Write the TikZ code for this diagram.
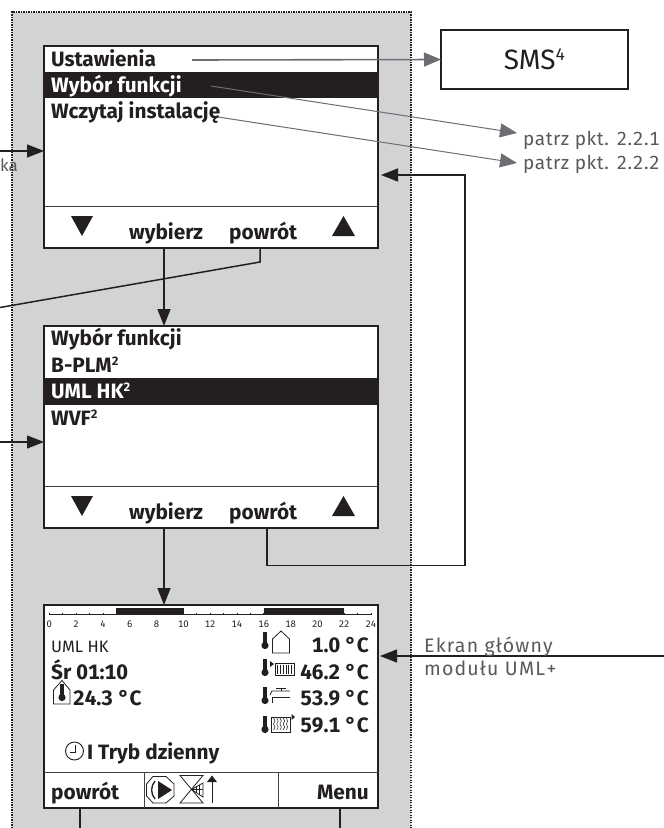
\documentclass[tikz,border=0pt]{standalone}
\usepackage{fontspec}
\setmainfont[Numbers={Lining,Monospaced}]{Fira Sans}
\usetikzlibrary{arrows.meta}
\definecolor{ink}{HTML}{231F20}
\definecolor{panel}{HTML}{D1D3D4}
\definecolor{arrowgray}{HTML}{6D6E71}
\definecolor{labelgray}{HTML}{58595B}
\newcommand{\upfour}{\raisebox{9pt}{\fontsize{17}{18}\selectfont 4}}
\newcommand{\uptwo}{\raisebox{6.5pt}{\bfseries\fontsize{12}{13}\selectfont 2}}
\tikzset{
  x=1pt,y=-1pt,
  screen/.style={draw=ink,line width=1.2pt,fill=white,minimum width=334pt,minimum height=202pt,inner sep=0pt,outer sep=0pt,anchor=north west},
  sms/.style={draw=ink,line width=1.3pt,fill=white,minimum width=187pt,minimum height=59pt,inner sep=0pt,outer sep=0pt,anchor=north west,text=ink,font=\fontsize{28}{30}\selectfont},
  menuitem/.style={anchor=base west,inner sep=0pt,text=ink,font=\bfseries\fontsize{20.8}{24}\selectfont},
  menuwhite/.style={menuitem,text=white},
  softkey/.style={anchor=base west,inner sep=0pt,text=ink,font=\bfseries\fontsize{20.8}{24}\selectfont},
  plain/.style={anchor=base west,inner sep=0pt,text=ink,font=\fontsize{16.5}{18}\selectfont},
  temp/.style={anchor=base east,inner sep=0pt,text=ink,font=\bfseries\fontsize{20.8}{24}\selectfont},
  tick/.style={anchor=center,inner sep=0pt,text=ink,font=\fontsize{9.5}{10}\selectfont},
  note/.style={anchor=base west,inner sep=0pt,text=labelgray,font=\fontsize{19}{22}\selectfont\addfontfeature{LetterSpace=3}},
  notewide/.style={note,font=\fontsize{19.5}{22}\selectfont\addfontfeature{LetterSpace=6}},
  blackline/.style={draw=ink,line width=1.5pt},
  blackarrow/.style={blackline,-{Triangle[length=17pt,width=13pt]}},
  thinarrow/.style={draw=ink,line width=1.1pt,-{Triangle[length=17pt,width=13pt]}},
  grayarrow/.style={draw=arrowgray,line width=1.6pt,-{Triangle[length=17pt,width=14pt]}},
  grayarrowthin/.style={draw=arrowgray,line width=1pt,-{Triangle[length=17pt,width=14pt]}},
  rule/.style={draw=ink!85,line width=0.9pt},
  outline/.style={draw=ink,line width=0.8pt,fill=none},
  hatch/.style={draw=ink,line width=0.5pt},
}
\newcommand{\thermo}[2]{%
  \fill[ink] (#1-1.8,#2) rectangle (#1+1.8,#2+12);
  \fill[ink] (#1,#2+13.5) circle[radius=3.6];
}
\begin{document}
\begin{tikzpicture}
\useasboundingbox (0,0) rectangle (664,828);
\fill[panel] (12,12) rectangle (411,828);
\draw[ink,line width=1.2pt,dash pattern=on 1.2pt off 1.3pt] (12,828) -- (12,12) -- (411,12) -- (411,828);

% screens
\node[screen] (scrA) at (44,46) {};
\node[screen] (scrB) at (44,326) {};
\node[screen,minimum height=203pt] (scrC) at (44,605) {};
\node[sms] (smsbox) at (441,30) {SMS\upfour};

% screen A
\fill[ink] (45,72) rectangle (378,98);
\draw[rule] (44,206) -- (378,206);
\node[menuitem] (a1) at (51,66) {Ustawienia};
\node[menuwhite] (a2) at (51,92) {Wybór funkcji};
\node[menuitem] (a3) at (51,118.5) {Wczytaj instalację};
\fill[ink] (71,216) -- (93,216) -- (82,236) -- cycle;
\fill[ink] (332,236) -- (355,236) -- (343.5,216) -- cycle;
\node[softkey] (a4) at (129,239) {wybierz};
\node[softkey] (a5) at (229,239) {powrót};

% screen B
\fill[ink] (45,378) rectangle (378,405);
\draw[rule] (44,486) -- (378,486);
\node[menuitem] (b1) at (51,345) {Wybór funkcji};
\node[menuitem] (b2) at (51,372) {B-PLM\uptwo};
\node[menuwhite] (b3) at (51,398) {UML HK\uptwo};
\node[menuitem] (b4) at (51,425) {WVF\uptwo};
\fill[ink] (71,496) -- (93,496) -- (82,516) -- cycle;
\fill[ink] (332,516) -- (355,516) -- (343.5,496) -- cycle;
\node[softkey] (b5) at (129,519) {wybierz};
\node[softkey] (b6) at (229,519) {powrót};

% screen C: time scale
\draw[ink,line width=0.7pt] (49.3,614.5) -- (371,614.5);
\foreach \h in {0,...,24} {\draw[ink,line width=0.7pt] (49.3+13.404*\h,612.5) -- (49.3+13.404*\h,614.5);}
\fill[ink] (116,608) rectangle (184,614.5);
\fill[ink] (263.5,608) rectangle (344,614.5);
\foreach \h in {0,2,...,24} {\node[tick] (t\h) at (49.3+13.404*\h,624) {\h};}

% screen C: dividers
\draw[rule] (44,772) -- (378,772);
\draw[rule] (144,772) -- (144,808);
\draw[rule] (278,772) -- (278,808);

% screen C: texts
\node[plain] (c1) at (51,652) {UML HK};
\node[menuitem] (c2) at (51,679) {Śr 01:10};
\node[menuitem] (c3) at (73,705) {24.3 °C};
\node[temp] (c4) at (369,652) {1.0 °C};
\node[temp] (c5) at (369,679) {46.2 °C};
\node[temp] (c6) at (369,705) {53.9 °C};
\node[temp] (c7) at (369,732) {59.1 °C};
\node[menuitem] (c8) at (87,759) {I Tryb dzienny};
\node[softkey] (c9) at (51,799) {powrót};
\node[softkey,anchor=base east] (c10) at (369,799) {Menu};

% screen C: room icon
\draw[outline] (53.5,704) -- (53.5,690) -- (62,680.5) -- (70,690) -- (70,704) -- cycle;
\thermo{62}{684}
% outside icon
\thermo{265}{632}
\draw[outline] (272.5,653) -- (272.5,639) -- (281,631) -- (289.5,639) -- (289.5,653) -- cycle;
% radiator icon
\thermo{265}{659}
\fill[ink] (270,661) -- (274,664) -- (270,667) -- cycle;
\draw[outline] (275,663) rectangle (294,675);
\foreach \d in {0,...,5} {\draw[hatch] (277.5+2.8*\d,664.5) -- (277.5+2.8*\d,673.5);}
% tap icon
\thermo{265}{687}
\draw[outline] (290,697) -- (272,697) -- (272,703);
\draw[outline] (290,691) -- (272,691) -- (270,695);
\draw[outline] (281,691) -- (281,688);
\draw[outline] (276,688) -- (286,688);
% storage icon
\thermo{265}{716}
\draw[outline] (271,717) rectangle (290,732);
\foreach \d in {0,...,4} {\draw[hatch] (273.5+3.2*\d,718) -- (275+3.2*\d,721) -- (273.5+3.2*\d,724) -- (275+3.2*\d,727) -- (273.5+3.2*\d,730);}
\fill[ink] (291.5,714) -- (295,717) -- (291.5,720) -- cycle;
% clock icon
\draw[ink,line width=0.9pt] (74.5,751) circle[radius=9];
\draw[ink,line width=0.9pt] (75,745) -- (75,752) -- (70,752);
% pump icon
\draw[outline] (153,776.5) -- (166,776.5) -- (174,784) -- (174,796) -- (166,803) -- (153,803) -- (146.5,796) -- (146.5,784) -- cycle;
\fill[ink] (158,781) -- (172,790) -- (158,799) -- cycle;
\draw[ink,line width=1.3pt] (155,781) .. controls (150.5,786) and (150.5,794) .. (155,799);
% mixer icon
\draw[outline] (180,775.5) -- (203,775.5) -- (180,803) -- (203,803) -- cycle;
\draw[outline] (203,783) -- (191.5,789.5) -- (203,797) -- cycle;
\draw[hatch] (191.5,789.5) -- (203,789.5);
\draw[hatch] (196,786) -- (196,793);
\draw[hatch] (199.5,785) -- (199.5,795);
% lift arrow icon
\draw[ink,line width=1pt] (212,803) -- (212,779);
\fill[ink] (207,782) -- (217,782) -- (212,775.5) -- cycle;

% connectors
\coordinate (smsTip) at (smsbox.west);
\coordinate (ustFrom) at (192,60);
\coordinate (wybFrom) at (211,86);
\coordinate (wybTo) at (517,133);
\coordinate (wczFrom) at (218,117);
\coordinate (wczTo) at (517,163);
\draw[grayarrow] (ustFrom) -- (smsTip);
\draw[grayarrowthin] (wybFrom) -- (wybTo);
\draw[grayarrowthin] (wczFrom) -- (wczTo);
\node[note] (n1) at (523,145) {patrz pkt. 2.2.1};
\node[note] (n2) at (523,169) {patrz pkt. 2.2.2};

\coordinate (inA) at (0,151);
\coordinate (inAto) at (44,151);
\coordinate (inB) at (0,442);
\coordinate (inBto) at (44,442);
\draw[blackarrow] (inA) -- (inAto);
\draw[thinarrow] (inB) -- (inBto);
\node[anchor=base east,inner sep=0pt,text=labelgray,font=\fontsize{17}{20}\selectfont] (kaText) at (18,171) {ka};

\coordinate (aSel) at (164,248);
\coordinate (bTop) at (164,326);
\coordinate (bSel) at (164,528);
\coordinate (cTop) at (164,605);
\draw[blackarrow] (aSel) -- (bTop);
\draw[blackarrow] (bSel) -- (cTop);

\coordinate (aBack) at (260,248);
\coordinate (aBackKnee) at (260,262);
\coordinate (aBackEnd) at (0,307.5);
\draw[blackline] (aBack) -- (aBackKnee) -- (aBackEnd);

\coordinate (bBack) at (267,528);
\coordinate (bBackA) at (267,565.5);
\coordinate (bBackB) at (465,565.5);
\coordinate (bBackC) at (465,175);
\coordinate (bBackEnd) at (381,175);
\draw[blackarrow] (bBack) -- (bBackA) -- (bBackB) -- (bBackC) -- (bBackEnd);

\coordinate (mainFrom) at (664,656);
\coordinate (mainTo) at (380,656);
\draw[thinarrow] (mainFrom) -- (mainTo);
\node[notewide] (n3) at (424,652) {Ekran główny};
\node[notewide] (n4) at (424,675) {modułu UML+};

\coordinate (cLeft) at (80,808);
\coordinate (cLeftEnd) at (80,828);
\coordinate (cRight) at (340,808);
\coordinate (cRightEnd) at (340,828);
\draw[blackline] (cLeft) -- (cLeftEnd);
\draw[blackline] (cRight) -- (cRightEnd);
\end{tikzpicture}
\end{document}
